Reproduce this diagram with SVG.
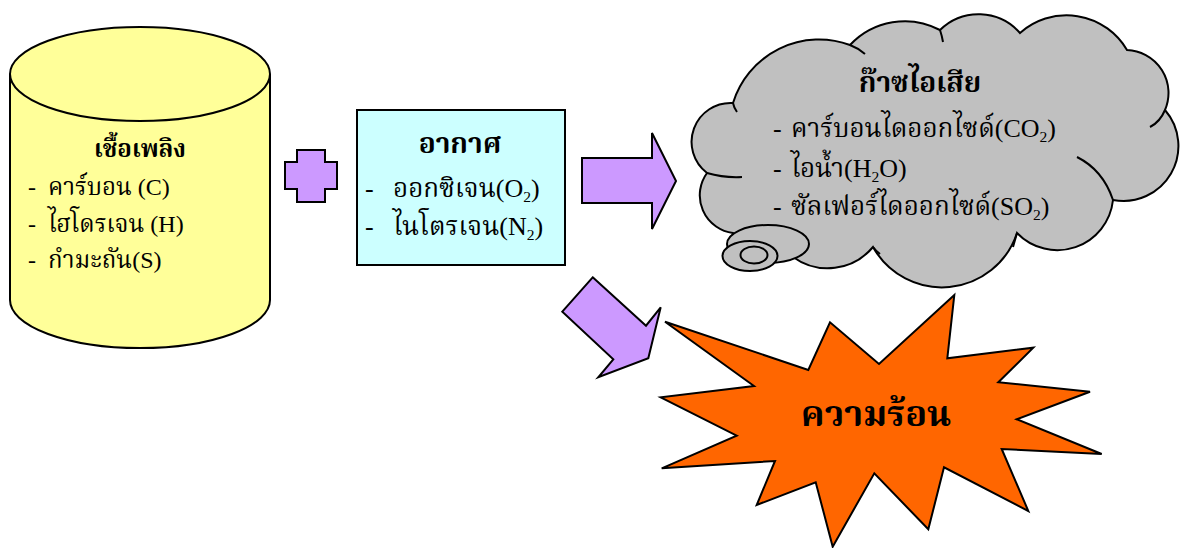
<svg xmlns="http://www.w3.org/2000/svg" width="1181" height="548" viewBox="0 0 1181 548">
<style>
.o{stroke:#000;stroke-width:2;stroke-linejoin:miter}
.t{font-family:"Liberation Serif","Noto Serif Thai","Noto Sans Thai",serif;fill:#000}
.b{font-weight:bold}
.s{font-size:0.6em}
</style>
<rect width="1181" height="548" fill="#fff"/>
<g id="fuel">
<path class="o" fill="#FFFF99" d="M10,74 L10,300 A130,48 0 0 0 270,300 L270,74 A130,47 0 0 0 10,74 Z"/>
<path class="o" fill="none" d="M10,74 A130,47 0 0 0 270,74"/>
<text class="t b" x="140" y="157" font-size="24" text-anchor="middle">เชื้อเพลิง</text>
<text class="t" x="28" y="195" font-size="24">-<tspan x="48">คาร์บอน (C)</tspan></text>
<text class="t" x="28" y="232" font-size="24">-<tspan x="48">ไฮโดรเจน (H)</tspan></text>
<text class="t" x="28" y="268" font-size="24">-<tspan x="48">กำมะถัน(S)</tspan></text>
</g>
<g id="plus">
<path class="o" fill="#CC99FF" d="M297,150 H325 V162 H337 V189 H325 V202 H297 V189 H285 V162 H297 Z"/>
</g>
<g id="air">
<rect class="o" x="357" y="110" width="208" height="155" fill="#CCFFFF"/>
<text class="t b" x="460" y="153" font-size="28" text-anchor="middle">อากาศ</text>
<text class="t" x="365" y="197" font-size="26">-<tspan x="393">ออกซิเจน(O</tspan><tspan class="s" dy="5">2</tspan><tspan dy="-5">)</tspan></text>
<text class="t" x="365" y="235" font-size="26">-<tspan x="393">ไนโตรเจน(N</tspan><tspan class="s" dy="5">2</tspan><tspan dy="-5">)</tspan></text>
</g>
<g id="connectors">
<path class="o" fill="#CC99FF" d="M582,158 H652 V133 L676,181 L652,229 V203 H582 Z"/>
<path class="o" fill="#CC99FF" d="M592.7,277.3 L646,325.7 L660.7,307.3 L648.3,358.3 L598.3,377.3 L613.3,359.3 L562.3,311.7 Z"/>
</g>
<g id="gas">
<path class="o" fill="#C0C0C0" d="M733,103 A90,90 0 0 1 850,45 A75,75 0 0 1 940,30 A55,55 0 0 1 1020,33 A70,70 0 0 1 1127,50 A43,43 0 0 1 1165,110 A55,55 0 0 1 1113,200 A56,56 0 0 1 1017,233 A79,79 0 0 1 873,247 A59,59 0 0 1 793,257 A60,60 0 0 1 733,233 A38,38 0 0 1 707,173 A39,39 0 0 1 733,103 Z"/>
<path class="o" fill="none" d="M707,173 Q724,178 742,177 M850,45 Q858,48 865,54 M940,30 Q942,36 943,42 M1165,110 Q1160,122 1150,127 M1113,200 Q1103,170 1077,157 M1017,233 Q1015,240 1013,247 M873,247 Q876,251 880,254 M733,103 Q734,108 737,112"/>
<ellipse class="o" cx="768" cy="244" rx="41" ry="19" fill="#C0C0C0"/>
<ellipse class="o" cx="750" cy="256" rx="27.5" ry="15" fill="#C0C0C0"/>
<ellipse class="o" cx="754" cy="255" rx="13.5" ry="8.5" fill="#C0C0C0"/>
<text class="t b" x="920" y="92" font-size="28" text-anchor="middle">ก๊าซไอเสีย</text>
<text class="t" x="773" y="137" font-size="26">-<tspan x="791">คาร์บอนไดออกไซด์(CO</tspan><tspan class="s" dy="5">2</tspan><tspan dy="-5">)</tspan></text>
<text class="t" x="773" y="177" font-size="26">-<tspan x="791">ไอน้ำ(H</tspan><tspan class="s" dy="5">2</tspan><tspan dy="-5">O)</tspan></text>
<text class="t" x="773" y="215" font-size="26">-<tspan x="791">ซัลเฟอร์ไดออกไซด์(SO</tspan><tspan class="s" dy="5">2</tspan><tspan dy="-5">)</tspan></text>
</g>
<g id="heat">
<path class="o" fill="#FF6600" d="M665,321.7 L808.3,370 L830,322.3 L879,364 L954.3,295 L947.3,358.3 L1033.3,347.7 L998.3,382.3 L1090,391.7 L1016.7,419.3 L1101.7,454 L1001.7,449 L1028.3,511 L944,467.3 L928.3,529.3 L874.3,473.3 L832.7,546.7 L815.7,482.3 L756.7,505 L775,461 L661.7,468.3 L736.7,435.7 L660.7,397.3 L754,386 Z"/>
<text class="t b" x="876" y="426" font-size="36" text-anchor="middle">ความร้อน</text>
</g>
</svg>
